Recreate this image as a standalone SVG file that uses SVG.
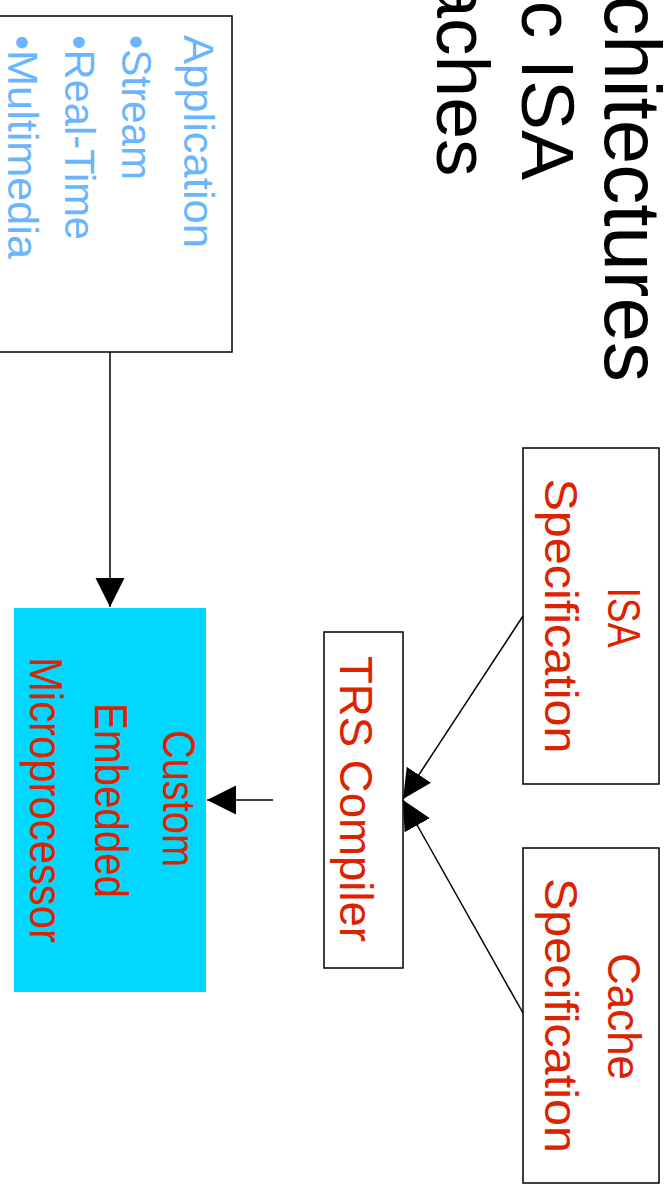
<svg xmlns="http://www.w3.org/2000/svg" width="670" height="1188" viewBox="0 0 670 1188">
<style>
.title{font-family:"Liberation Sans",Arial,sans-serif;font-size:80px;fill:#000}
.t2{font-size:75px}
.box{fill:#fff;stroke:#000;stroke-width:1.5}
.red{font-family:"Liberation Sans",Arial,sans-serif;font-size:46px;fill:#DD2200}
.blue{font-family:"Liberation Sans",Arial,sans-serif;font-size:43px;fill:#6BB5FF}
.conn{stroke:#000;stroke-width:1.5;fill:none}
</style>
<defs>
<marker id="ah" markerUnits="userSpaceOnUse" markerWidth="30" markerHeight="30" refX="29" refY="14.5" orient="auto">
<path d="M0,0 L29,14.5 L0,29 z" fill="#000"/>
</marker>
</defs>
<rect width="670" height="1188" fill="#fff"/>
<g id="title">
<text class="title" text-anchor="end" transform="translate(605,382) rotate(90)">chitectures</text>
<text class="title t2" text-anchor="end" transform="translate(522,180) rotate(90)">c ISA</text>
<text class="title t2" text-anchor="end" transform="translate(437,176.5) rotate(90)">aches</text>
</g>
<g id="application">
<rect class="box" x="-10" y="16" width="242" height="336"/>
<text class="blue" transform="translate(184,35) rotate(90)" textLength="213" lengthAdjust="spacingAndGlyphs">Application</text>
<text class="blue" transform="translate(122,35) rotate(90)" textLength="145" lengthAdjust="spacingAndGlyphs">•Stream</text>
<text class="blue" transform="translate(65,35) rotate(90)" textLength="205" lengthAdjust="spacingAndGlyphs">•Real-Time</text>
<text class="blue" transform="translate(8,35) rotate(90)" textLength="224" lengthAdjust="spacingAndGlyphs">•Multimedia</text>
</g>
<g id="isa-spec">
<rect class="box" x="523" y="448" width="136" height="336"/>
<text class="red" text-anchor="middle" transform="translate(608,617.5) rotate(90)" textLength="60" lengthAdjust="spacingAndGlyphs">ISA</text>
<text class="red" text-anchor="middle" transform="translate(545,616) rotate(90)" textLength="275" lengthAdjust="spacingAndGlyphs">Specification</text>
</g>
<g id="cache-spec">
<rect class="box" x="523" y="848" width="136" height="335"/>
<text class="red" text-anchor="middle" transform="translate(608,1016.5) rotate(90)" textLength="127" lengthAdjust="spacingAndGlyphs">Cache</text>
<text class="red" text-anchor="middle" transform="translate(545,1015.5) rotate(90)" textLength="275" lengthAdjust="spacingAndGlyphs">Specification</text>
</g>
<g id="trs-compiler">
<rect class="box" x="324" y="632" width="79" height="336"/>
<text class="red" text-anchor="middle" transform="translate(340,799) rotate(90)" textLength="286" lengthAdjust="spacingAndGlyphs">TRS Compiler</text>
</g>
<g id="custom-processor">
<rect x="14" y="608" width="192" height="384" fill="#00D8FF"/>
<text class="red" text-anchor="middle" transform="translate(163,798.5) rotate(90)" textLength="137" lengthAdjust="spacingAndGlyphs">Custom</text>
<text class="red" text-anchor="middle" transform="translate(95,800.5) rotate(90)" textLength="195" lengthAdjust="spacingAndGlyphs">Embedded</text>
<text class="red" text-anchor="middle" transform="translate(30,800) rotate(90)" textLength="286" lengthAdjust="spacingAndGlyphs">Microprocessor</text>
</g>
<g id="connectors">
<line class="conn" x1="110" y1="352" x2="110" y2="607" marker-end="url(#ah)"/>
<line class="conn" x1="273" y1="800" x2="207" y2="800" marker-end="url(#ah)"/>
<line class="conn" x1="523" y1="616" x2="403" y2="799" marker-end="url(#ah)"/>
<line class="conn" x1="523" y1="1013" x2="403" y2="800" marker-end="url(#ah)"/>
</g>
</svg>
